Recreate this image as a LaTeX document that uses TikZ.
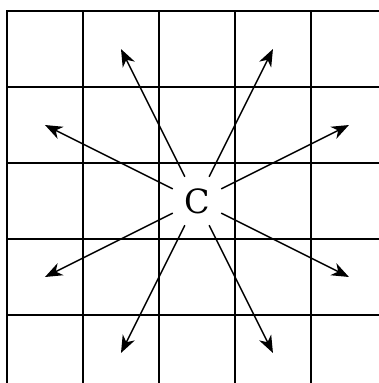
\documentclass[tikz,border=0pt]{standalone}
\usepackage{fontspec}
\setmainfont{DejaVu Serif}
\usetikzlibrary{arrows.meta}

\begin{document}
\begin{tikzpicture}[scale=1.0,
  jump/.style={-{Stealth[length=6.5pt,width=5pt,inset=2pt]},line width=0.55pt}]
  % \useasboundingbox is the cropped board
  \useasboundingbox(-0.092,0.145)rectangle(4.895,-4.895);
  \draw[line width=0.6pt,line cap=rect](0,-4.895)grid(4.895,0);
  \node[circle,inner sep=0pt,minimum size=0.7cm,font=\fontsize{12.5}{14}\selectfont](c)at(2.5,-2.5){C};
  \foreach \dx/\dy in {-1/2,1/2,-2/1,2/1,-2/-1,2/-1,-1/-2,1/-2}{
    \coordinate(k\dx\dy)at([shift={(\dx,\dy)}]c.center);
    \draw[jump](c)--(k\dx\dy);
  }
\end{tikzpicture}
\end{document}
